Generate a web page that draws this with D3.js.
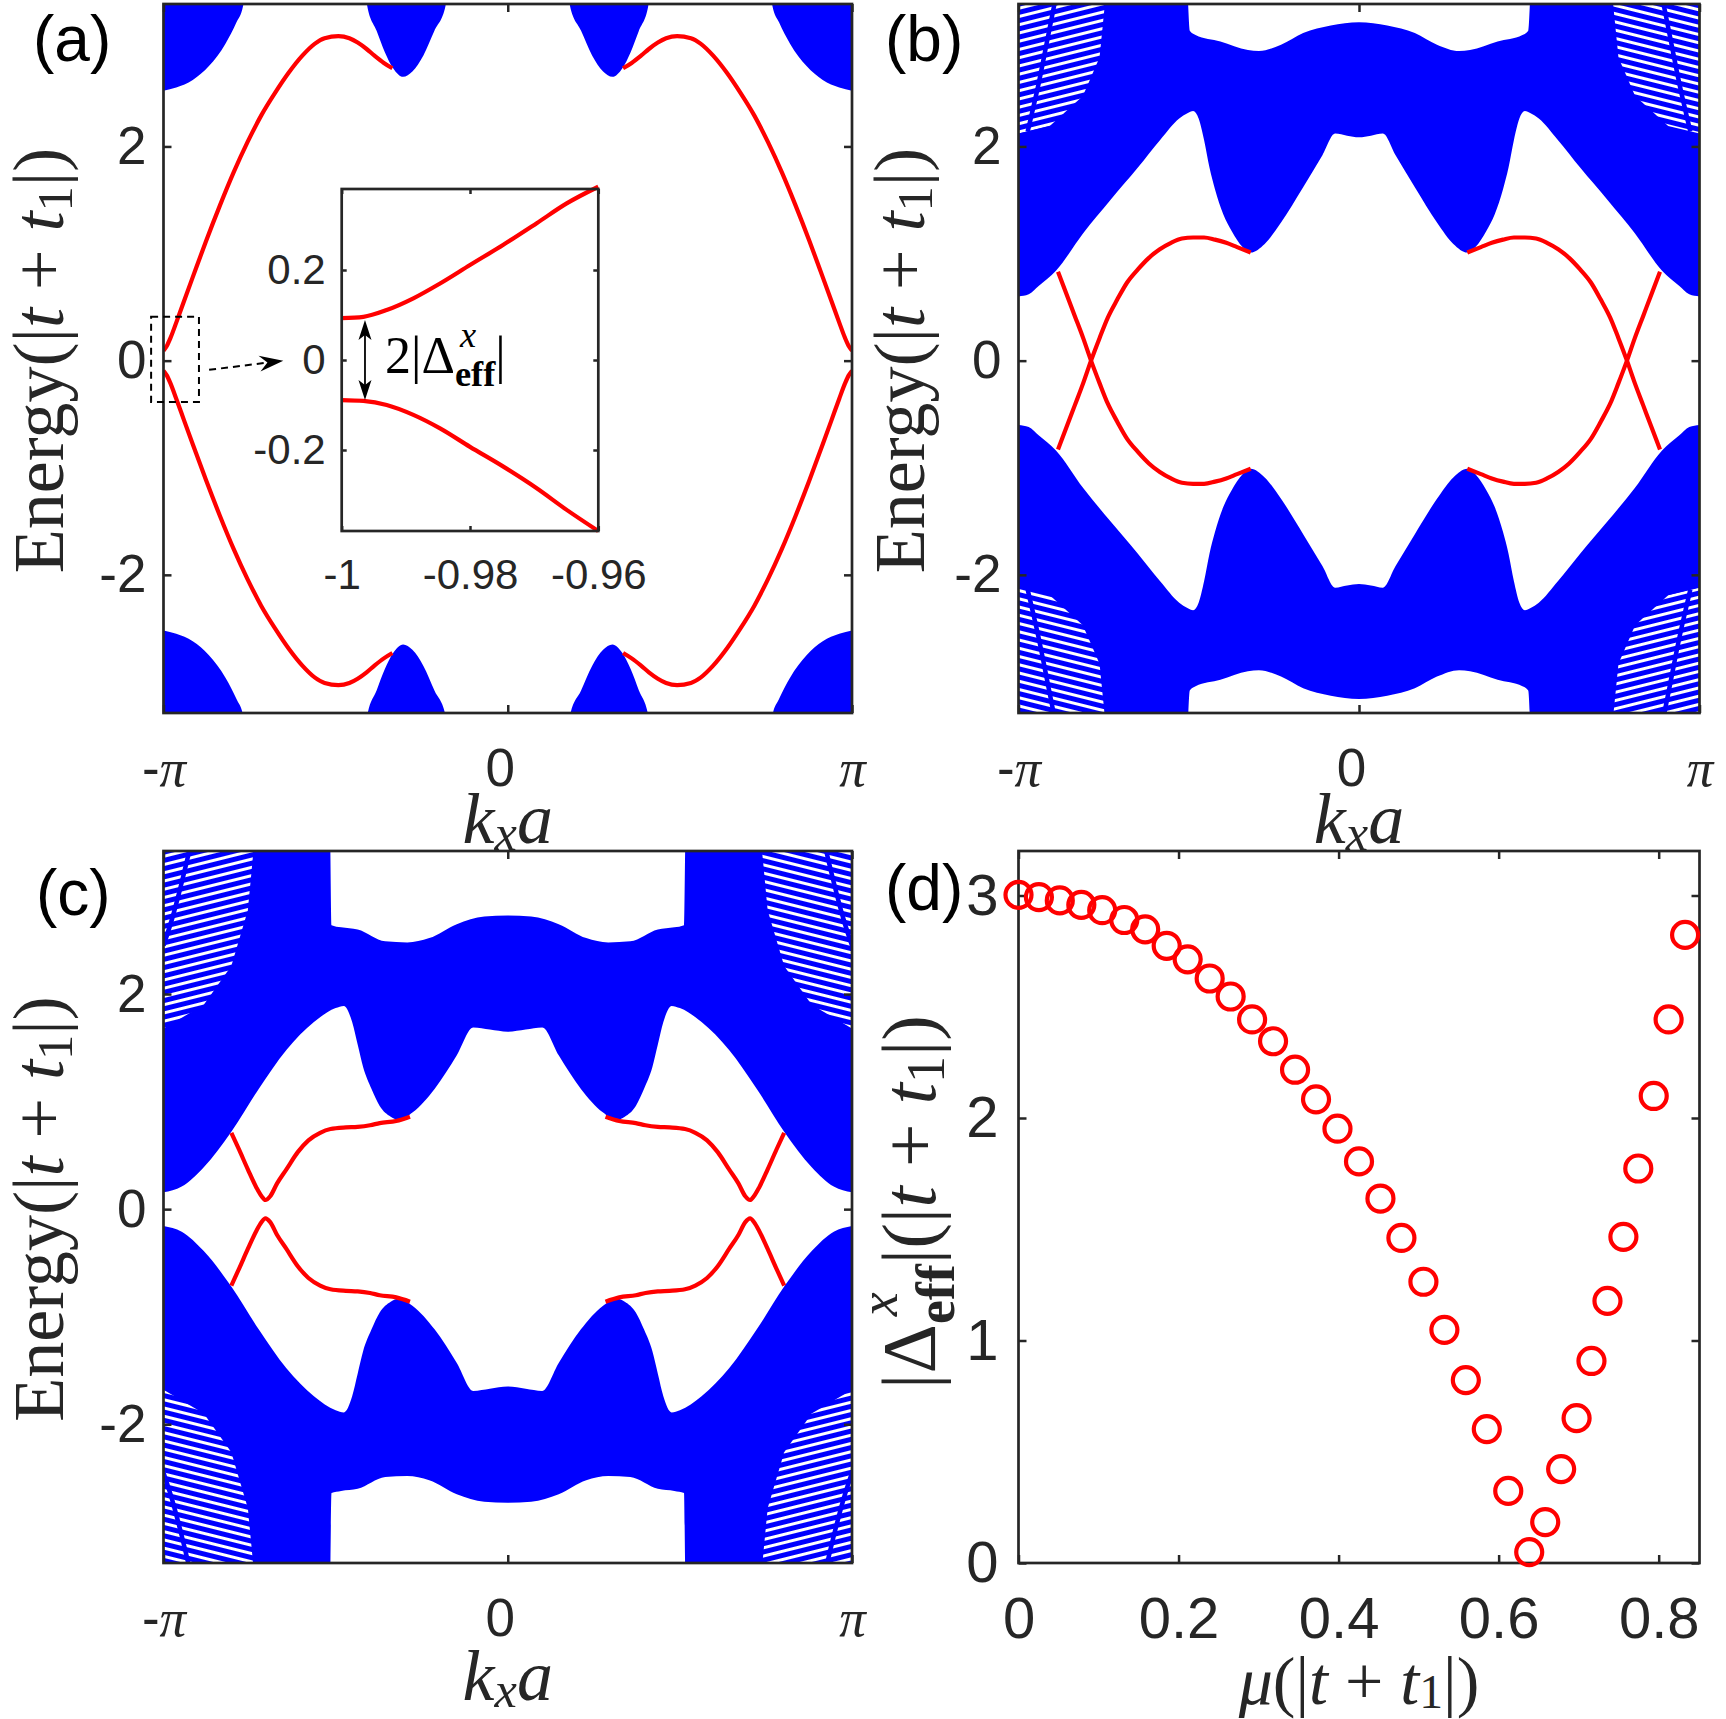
<!DOCTYPE html>
<html>
<head>
<meta charset="utf-8">
<script src="https://cdn.jsdelivr.net/npm/d3@7"></script>
<style>
  body { margin: 0; background: #fff; }
  svg { display: block; }
</style>
</head>
<body>
<svg id="fig" width="1726" height="1719"></svg>
<script>
// k values are in units of pi (kx a / pi), energies in |t+t1|

// ---------- panel (a) ----------
const aBlobTL = [[-1,2.52],[-0.963,2.55],[-0.915,2.62],[-0.868,2.75],[-0.82,2.96],[-0.788,3.16],[-0.769,3.31],[-0.764,3.45]]
const aBump1  = [[-0.412,3.45],[-0.408,3.31],[-0.381,3.08],[-0.357,2.88],[-0.333,2.73],[-0.304,2.65],[-0.277,2.70],[-0.245,2.85],[-0.213,3.08],[-0.181,3.31],[-0.177,3.45]]
const aBump2  = [[0.177,3.45],[0.181,3.31],[0.213,3.08],[0.245,2.85],[0.277,2.70],[0.304,2.65],[0.333,2.73],[0.357,2.88],[0.381,3.08],[0.408,3.31],[0.412,3.45]]
const aBlobTR = [[0.764,3.45],[0.769,3.31],[0.788,3.16],[0.82,2.96],[0.868,2.75],[0.915,2.62],[0.963,2.55],[1,2.52]]
const aBlobBL = [[-1,-2.52],[-0.963,-2.55],[-0.915,-2.62],[-0.868,-2.75],[-0.82,-2.96],[-0.788,-3.16],[-0.769,-3.31],[-0.764,-3.45]]
const aBumpB1 = [[-0.412,-3.45],[-0.408,-3.31],[-0.381,-3.08],[-0.357,-2.88],[-0.333,-2.73],[-0.304,-2.65],[-0.277,-2.70],[-0.245,-2.85],[-0.213,-3.08],[-0.181,-3.31],[-0.177,-3.45]]
const aBumpB2 = [[0.177,-3.45],[0.181,-3.31],[0.213,-3.08],[0.245,-2.85],[0.277,-2.70],[0.304,-2.65],[0.333,-2.73],[0.357,-2.88],[0.381,-3.08],[0.408,-3.31],[0.412,-3.45]]
const aBlobBR = [[0.764,-3.45],[0.769,-3.31],[0.788,-3.16],[0.82,-2.96],[0.868,-2.75],[0.915,-2.62],[0.963,-2.55],[1,-2.52]]

const aRedUp = [[-1,0.094],[-0.99,0.14],[-0.98,0.21],[-0.963,0.355],[-0.94,0.56],[-0.915,0.78],[-0.876,1.12],[-0.836,1.45],[-0.796,1.76],[-0.756,2.04],[-0.716,2.29],[-0.676,2.50],[-0.636,2.69],[-0.596,2.85],[-0.56,2.96],[-0.532,3.01],[-0.492,3.03],[-0.46,3.01],[-0.436,2.97],[-0.41,2.91],[-0.388,2.85],[-0.36,2.78],[-0.335,2.73],
  null,
  [0.335,2.73],[0.36,2.78],[0.388,2.85],[0.41,2.91],[0.436,2.97],[0.46,3.01],[0.492,3.03],[0.532,3.01],[0.56,2.96],[0.596,2.85],[0.636,2.69],[0.676,2.50],[0.716,2.29],[0.756,2.04],[0.796,1.76],[0.836,1.45],[0.876,1.12],[0.915,0.78],[0.94,0.56],[0.963,0.355],[0.98,0.21],[0.99,0.14],[1,0.094]]
const aRedDn = [[-1,-0.094],[-0.99,-0.14],[-0.98,-0.21],[-0.963,-0.355],[-0.94,-0.56],[-0.915,-0.78],[-0.876,-1.12],[-0.836,-1.45],[-0.796,-1.76],[-0.756,-2.04],[-0.716,-2.29],[-0.676,-2.50],[-0.636,-2.69],[-0.596,-2.85],[-0.56,-2.96],[-0.532,-3.01],[-0.492,-3.03],[-0.46,-3.01],[-0.436,-2.97],[-0.41,-2.91],[-0.388,-2.85],[-0.36,-2.78],[-0.335,-2.73],
  null,
  [0.335,-2.73],[0.36,-2.78],[0.388,-2.85],[0.41,-2.91],[0.436,-2.97],[0.46,-3.01],[0.492,-3.03],[0.532,-3.01],[0.56,-2.96],[0.596,-2.85],[0.636,-2.69],[0.676,-2.50],[0.716,-2.29],[0.756,-2.04],[0.796,-1.76],[0.836,-1.45],[0.876,-1.12],[0.915,-0.78],[0.94,-0.56],[0.963,-0.355],[0.98,-0.21],[0.99,-0.14],[1,-0.094]]

// inset of (a): k from -1 to -0.96
const insetUp = [[-1,0.093],[-0.99662,0.096],[-0.99299,0.111],[-0.98883,0.137],[-0.98467,0.170],[-0.98,0.211],[-0.9748,0.256],[-0.9696,0.304],[-0.96493,0.348],[-0.96,0.385]]
const insetDn = [[-1,-0.089],[-0.99662,-0.091],[-0.99299,-0.100],[-0.98883,-0.122],[-0.98467,-0.152],[-0.98,-0.193],[-0.9748,-0.237],[-0.9696,-0.285],[-0.96493,-0.333],[-0.96,-0.38]]

// ---------- panel (b) ----------
const bUpperLo = [[-1,0.60],[-0.97,0.62],[-0.94,0.70],[-0.89,0.84],[-0.81,1.19],[-0.73,1.50],[-0.65,1.80],[-0.584,2.06],[-0.528,2.26],[-0.504,2.31],[-0.487,2.33],[-0.471,2.26],[-0.455,2.06],[-0.439,1.80],[-0.423,1.60],[-0.399,1.37],[-0.374,1.21],[-0.342,1.06],[-0.318,1.01],[-0.277,1.09],[-0.229,1.29],[-0.164,1.62],[-0.107,1.92],[-0.07,2.12],[-0.035,2.10],[0,2.085],[0.035,2.10],[0.07,2.12],[0.107,1.92],[0.164,1.62],[0.229,1.29],[0.277,1.09],[0.318,1.01],[0.342,1.06],[0.374,1.21],[0.399,1.37],[0.423,1.60],[0.439,1.80],[0.455,2.06],[0.471,2.26],[0.487,2.33],[0.504,2.31],[0.528,2.26],[0.584,2.06],[0.65,1.80],[0.73,1.50],[0.81,1.19],[0.89,0.84],[0.94,0.70],[0.97,0.62],[1,0.60]]
const bUpperHi = [[-1,3.6],[-0.507,3.6],[-0.497,3.08],[-0.48,3.04],[-0.407,2.98],[-0.326,2.90],[-0.294,2.89],[-0.229,2.95],[-0.164,3.06],[-0.083,3.13],[0,3.16],[0.083,3.13],[0.164,3.06],[0.229,2.95],[0.294,2.89],[0.326,2.90],[0.407,2.98],[0.48,3.04],[0.497,3.08],[0.507,3.6],[1,3.6]]
const bLowerHi = [[-1,-0.60],[-0.97,-0.62],[-0.94,-0.70],[-0.89,-0.84],[-0.81,-1.19],[-0.73,-1.50],[-0.65,-1.80],[-0.584,-2.06],[-0.528,-2.26],[-0.504,-2.31],[-0.487,-2.33],[-0.471,-2.26],[-0.455,-2.06],[-0.439,-1.80],[-0.423,-1.60],[-0.399,-1.37],[-0.374,-1.21],[-0.342,-1.06],[-0.318,-1.01],[-0.277,-1.09],[-0.229,-1.29],[-0.164,-1.62],[-0.107,-1.92],[-0.07,-2.12],[-0.035,-2.10],[0,-2.085],[0.035,-2.10],[0.07,-2.12],[0.107,-1.92],[0.164,-1.62],[0.229,-1.29],[0.277,-1.09],[0.318,-1.01],[0.342,-1.06],[0.374,-1.21],[0.399,-1.37],[0.423,-1.60],[0.439,-1.80],[0.455,-2.06],[0.471,-2.26],[0.487,-2.33],[0.504,-2.31],[0.528,-2.26],[0.584,-2.06],[0.65,-1.80],[0.73,-1.50],[0.81,-1.19],[0.89,-0.84],[0.94,-0.70],[0.97,-0.62],[1,-0.60]]
const bLowerLo = [[-1,-3.6],[-0.507,-3.6],[-0.497,-3.08],[-0.48,-3.04],[-0.407,-2.98],[-0.326,-2.90],[-0.294,-2.89],[-0.229,-2.95],[-0.164,-3.06],[-0.083,-3.13],[0,-3.16],[0.083,-3.13],[0.164,-3.06],[0.229,-2.95],[0.294,-2.89],[0.326,-2.90],[0.407,-2.98],[0.48,-3.04],[0.497,-3.08],[0.507,-3.6],[1,-3.6]]
const bCornerTL = [[-1,2.12],[-0.908,2.19],[-0.811,2.47],[-0.762,2.83],[-0.746,3.34],[-0.745,3.6],[-1,3.6]]
const bCornerTR = [[1,2.12],[0.908,2.19],[0.811,2.47],[0.762,2.83],[0.746,3.34],[0.745,3.6],[1,3.6]]
const bCornerBL = [[-1,-2.12],[-0.908,-2.19],[-0.811,-2.47],[-0.762,-2.83],[-0.746,-3.34],[-0.745,-3.6],[-1,-3.6]]
const bCornerBR = [[1,-2.12],[0.908,-2.19],[0.811,-2.47],[0.762,-2.83],[0.746,-3.34],[0.745,-3.6],[1,-3.6]]
const bStreaks = [
  [[-0.89,3.4],[-0.915,3.0],[-0.94,2.6],[-0.973,2.14]],
  [[0.89,3.4],[0.915,3.0],[0.94,2.6],[0.973,2.14]],
  [[-0.89,-3.4],[-0.915,-3.0],[-0.94,-2.6],[-0.973,-2.14]],
  [[0.89,-3.4],[0.915,-3.0],[0.94,-2.6],[0.973,-2.14]]]
const bRedUp = [[-0.884,-0.83],[-0.86,-0.63],[-0.835,-0.42],[-0.81,-0.21],[-0.787,0],[-0.762,0.21],[-0.738,0.40],[-0.71,0.57],[-0.681,0.73],[-0.65,0.85],[-0.617,0.96],[-0.585,1.04],[-0.552,1.10],[-0.52,1.14],[-0.487,1.15],[-0.455,1.15],[-0.423,1.13],[-0.39,1.10],[-0.358,1.06],[-0.318,1.01],
  null,
  [0.318,1.01],[0.358,1.06],[0.39,1.10],[0.423,1.13],[0.455,1.15],[0.487,1.15],[0.52,1.14],[0.552,1.10],[0.585,1.04],[0.617,0.96],[0.65,0.85],[0.681,0.73],[0.71,0.57],[0.738,0.40],[0.762,0.21],[0.787,0],[0.81,-0.21],[0.835,-0.42],[0.86,-0.63],[0.884,-0.83]]
const bRedDn = [[-0.884,0.83],[-0.86,0.63],[-0.835,0.42],[-0.81,0.21],[-0.787,0],[-0.762,-0.21],[-0.738,-0.40],[-0.71,-0.57],[-0.681,-0.73],[-0.65,-0.85],[-0.617,-0.96],[-0.585,-1.04],[-0.552,-1.10],[-0.52,-1.14],[-0.487,-1.15],[-0.455,-1.15],[-0.423,-1.13],[-0.39,-1.10],[-0.358,-1.06],[-0.318,-1.01],
  null,
  [0.318,-1.01],[0.358,-1.06],[0.39,-1.10],[0.423,-1.13],[0.455,-1.15],[0.487,-1.15],[0.52,-1.14],[0.552,-1.10],[0.585,-1.04],[0.617,-0.96],[0.65,-0.85],[0.681,-0.73],[0.71,-0.57],[0.738,-0.40],[0.762,-0.21],[0.787,0],[0.81,0.21],[0.835,0.42],[0.86,0.63],[0.884,0.83]]

// ---------- panel (c) ----------
const cUpperLo = [[-1,0.156],[-0.947,0.21],[-0.883,0.39],[-0.803,0.72],[-0.723,1.12],[-0.643,1.48],[-0.563,1.74],[-0.5,1.87],[-0.476,1.89],[-0.452,1.74],[-0.436,1.53],[-0.42,1.32],[-0.396,1.12],[-0.372,0.96],[-0.34,0.86],[-0.316,0.83],[-0.276,0.90],[-0.212,1.12],[-0.148,1.43],[-0.1,1.69],[-0.052,1.67],[0,1.65],[0.052,1.67],[0.1,1.69],[0.148,1.43],[0.212,1.12],[0.276,0.90],[0.316,0.83],[0.34,0.86],[0.372,0.96],[0.396,1.12],[0.42,1.32],[0.436,1.53],[0.452,1.74],[0.476,1.89],[0.5,1.87],[0.563,1.74],[0.643,1.48],[0.723,1.12],[0.803,0.72],[0.883,0.39],[0.947,0.21],[1,0.156]]
const cUpperHi = [[-1,3.6],[-0.517,3.6],[-0.512,2.64],[-0.484,2.62],[-0.436,2.60],[-0.356,2.49],[-0.292,2.48],[-0.228,2.52],[-0.148,2.65],[-0.068,2.72],[0,2.73],[0.068,2.72],[0.148,2.65],[0.228,2.52],[0.292,2.48],[0.356,2.49],[0.436,2.60],[0.484,2.62],[0.512,2.64],[0.517,3.6],[1,3.6]]
const cLowerHi = [[-1,-0.156],[-0.947,-0.21],[-0.883,-0.39],[-0.803,-0.72],[-0.723,-1.12],[-0.643,-1.48],[-0.563,-1.74],[-0.5,-1.87],[-0.476,-1.89],[-0.452,-1.74],[-0.436,-1.53],[-0.42,-1.32],[-0.396,-1.12],[-0.372,-0.96],[-0.34,-0.86],[-0.316,-0.83],[-0.276,-0.90],[-0.212,-1.12],[-0.148,-1.43],[-0.1,-1.69],[-0.052,-1.67],[0,-1.65],[0.052,-1.67],[0.1,-1.69],[0.148,-1.43],[0.212,-1.12],[0.276,-0.90],[0.316,-0.83],[0.34,-0.86],[0.372,-0.96],[0.396,-1.12],[0.42,-1.32],[0.436,-1.53],[0.452,-1.74],[0.476,-1.89],[0.5,-1.87],[0.563,-1.74],[0.643,-1.48],[0.723,-1.12],[0.803,-0.72],[0.883,-0.39],[0.947,-0.21],[1,-0.156]]
const cLowerLo = [[-1,-3.6],[-0.517,-3.6],[-0.512,-2.64],[-0.484,-2.62],[-0.436,-2.60],[-0.356,-2.49],[-0.292,-2.48],[-0.228,-2.52],[-0.148,-2.65],[-0.068,-2.72],[0,-2.73],[0.068,-2.72],[0.148,-2.65],[0.228,-2.52],[0.292,-2.48],[0.356,-2.49],[0.436,-2.60],[0.484,-2.62],[0.512,-2.64],[0.517,-3.6],[1,-3.6]]
const cCornerTL = [[-1,1.68],[-0.883,1.90],[-0.803,2.26],[-0.755,2.78],[-0.739,3.32],[-0.738,3.6],[-1,3.6]]
const cCornerTR = [[1,1.68],[0.883,1.90],[0.803,2.26],[0.755,2.78],[0.739,3.32],[0.738,3.6],[1,3.6]]
const cCornerBL = [[-1,-1.68],[-0.883,-1.90],[-0.803,-2.26],[-0.755,-2.78],[-0.739,-3.32],[-0.738,-3.6],[-1,-3.6]]
const cCornerBR = [[1,-1.68],[0.883,-1.90],[0.803,-2.26],[0.755,-2.78],[0.739,-3.32],[0.738,-3.6],[1,-3.6]]
const cStreaks = [
  [[-0.92,3.4],[-0.95,3.0],[-0.975,2.7],[-1,2.45]],
  [[0.92,3.4],[0.95,3.0],[0.975,2.7],[1,2.45]],
  [[-0.92,-3.4],[-0.95,-3.0],[-0.975,-2.7],[-1,-2.45]],
  [[0.92,-3.4],[0.95,-3.0],[0.975,-2.7],[1,-2.45]]]
const cRedUp = [[-0.803,0.71],[-0.78,0.55],[-0.755,0.37],[-0.73,0.2],[-0.715,0.12],[-0.704,0.085],[-0.69,0.12],[-0.67,0.24],[-0.643,0.37],[-0.61,0.53],[-0.579,0.64],[-0.545,0.71],[-0.515,0.745],[-0.47,0.76],[-0.436,0.765],[-0.4,0.78],[-0.372,0.80],[-0.324,0.82],[-0.284,0.86],
  null,
  [0.284,0.86],[0.324,0.82],[0.372,0.80],[0.4,0.78],[0.436,0.765],[0.47,0.76],[0.515,0.745],[0.545,0.71],[0.579,0.64],[0.61,0.53],[0.643,0.37],[0.67,0.24],[0.69,0.12],[0.704,0.085],[0.715,0.12],[0.73,0.2],[0.755,0.37],[0.78,0.55],[0.803,0.71]]
const cRedDn = [[-0.803,-0.71],[-0.78,-0.55],[-0.755,-0.37],[-0.73,-0.2],[-0.715,-0.12],[-0.704,-0.085],[-0.69,-0.12],[-0.67,-0.24],[-0.643,-0.37],[-0.61,-0.53],[-0.579,-0.64],[-0.545,-0.71],[-0.515,-0.745],[-0.47,-0.76],[-0.436,-0.765],[-0.4,-0.78],[-0.372,-0.80],[-0.324,-0.82],[-0.284,-0.86],
  null,
  [0.284,-0.86],[0.324,-0.82],[0.372,-0.80],[0.4,-0.78],[0.436,-0.765],[0.47,-0.76],[0.515,-0.745],[0.545,-0.71],[0.579,-0.64],[0.61,-0.53],[0.643,-0.37],[0.67,-0.24],[0.69,-0.12],[0.704,-0.085],[0.715,-0.12],[0.73,-0.2],[0.755,-0.37],[0.78,-0.55],[0.803,-0.71]]

// ---------- panel (d) ----------
const dMu  = [0, 0.0255, 0.0516, 0.0785, 0.1046, 0.1322, 0.1583, 0.1852, 0.2114, 0.2389, 0.2651, 0.2919, 0.3181, 0.3456, 0.3718, 0.3986, 0.4255, 0.4523, 0.4785, 0.5060, 0.5322, 0.5590, 0.5852, 0.6120, 0.6382, 0.6582, 0.6781, 0.6974, 0.7160, 0.7360, 0.7559, 0.7745, 0.7938, 0.8124, 0.8330]
const dGap = [3.003, 2.993, 2.978, 2.958, 2.934, 2.890, 2.848, 2.774, 2.713, 2.627, 2.546, 2.443, 2.345, 2.217, 2.084, 1.952, 1.805, 1.638, 1.461, 1.264, 1.048, 0.822, 0.602, 0.324, 0.049, 0.184, 0.422, 0.651, 0.908, 1.178, 1.466, 1.773, 2.099, 2.443, 2.823]

// ticks
const kTicks = [-1, 0, 1]
const eTicks = [-2, 0, 2]
const insetKTicks = [-1, -0.98, -0.96]
const insetETicks = [-0.2, 0, 0.2]
const muTicks = [0, 0.2, 0.4, 0.6, 0.8]
const gapTicks = [0, 1, 2, 3]

// ---------- drawing ----------
const blue = '#0000ff', red = '#ff0000', axisCol = '#262626'
const sans = "'Liberation Sans', Arial, Helvetica, sans-serif"
const serif = "'Liberation Serif', 'Times New Roman', serif"
const eDomain = [-3.29, 3.33]
const capE = 3.6

const svg = d3.select('#fig')
svg.append('rect').attr('width', 1726).attr('height', 1719).attr('fill', '#fff')
const defs = svg.append('defs')

// striped corners (discrete subbands near the zone edge)
;[['stripeUp', -14], ['stripeDn', 14]].forEach(([id, ang]) => {
  const p = defs.append('pattern').attr('id', id).attr('patternUnits', 'userSpaceOnUse')
    .attr('width', 8).attr('height', 8).attr('patternTransform', `rotate(${ang})`)
  p.append('rect').attr('width', 8).attr('height', 8).attr('fill', blue)
  p.append('rect').attr('y', 5).attr('width', 8).attr('height', 3).attr('fill', '#fff')
})

const boxes = {
  a: {x0: 163.5, x1: 852, y0: 4, y1: 713},
  b: {x0: 1018.5, x1: 1699.5, y0: 4, y1: 713},
  c: {x0: 163.5, x1: 852, y0: 851, y1: 1563},
  d: {x0: 1018.5, x1: 1699.5, y0: 851, y1: 1563}
}

// one <text> with tspans; r.back puts a superscript over the previous subscript
function mathLabel(parent, runs, fs, opts = {}) {
  const text = parent.append('text').attr('font-family', serif).attr('font-size', fs)
    .attr('fill', opts.color || axisCol).attr('text-anchor', opts.anchor || 'middle')
  let shift = 0, wPrev = 0, pending = 0
  runs.forEach(r => {
    const up = -(r.up || 0) * fs
    let dx = pending
    if (r.back !== undefined) dx += -wPrev + r.back * fs
    const ts = text.append('tspan').attr('dy', up - shift)
      .attr('font-size', fs * (r.s || 1))
      .attr('font-style', r.it ? 'italic' : null).attr('font-weight', r.bf ? 'bold' : null)
      .text(r.t)
    if (dx) ts.attr('dx', dx)
    shift = up
    const w = ts.node().getComputedTextLength()
    pending = r.back !== undefined ? Math.max(0, wPrev - r.back * fs - w) : 0
    wPrev = w
  })
  return text
}

function plusT1(sub) {
  return [{t: '(|'}, {t: 't', it: 1}, {t: '\u00A0+\u00A0'}, {t: 't', it: 1}, {t: '1', s: 0.7, up: -sub}, {t: '|)'}]
}
const energyRuns = [{t: 'Energy'}].concat(plusT1(0.12))
const kRuns = [{t: 'k', it: 1}, {t: 'x', it: 1, s: 0.7, up: -0.1}, {t: 'a', it: 1}]
const muRuns = [{t: 'μ', it: 1}].concat(plusT1(0.06))
const deltaRuns = [{t: 'Δ'}, {t: 'eff', bf: 1, s: 0.7, up: -0.25}, {t: 'x', it: 1, s: 0.7, up: 0.5, back: 0.1}]
const gapRuns = [{t: '|'}].concat(deltaRuns, [{t: '|'}], plusT1(0.12))
const insetRuns = [{t: '2'}, {t: '|'}].concat(deltaRuns, [{t: '|'}])

function styleAxis(sel, fs) {
  sel.attr('font-size', null).attr('font-family', null)
  sel.select('.domain').remove()
  sel.selectAll('.tick line').attr('stroke', axisCol).attr('stroke-width', 2.5)
  sel.selectAll('.tick text').attr('fill', axisCol).attr('font-size', fs).attr('font-family', sans)
}

function drawAxes(g, box, x, y, xt, yt, o) {
  g.append('g').attr('class', 'x-bottom').attr('transform', `translate(0,${box.y1})`)
    .call(d3.axisBottom(x).tickValues(xt).tickSizeInner(-o.tick).tickSizeOuter(0).tickPadding(o.padX).tickFormat(d => String(d)))
    .call(s => styleAxis(s, o.fs))
  g.append('g').attr('transform', `translate(0,${box.y0})`)
    .call(d3.axisTop(x).tickValues(xt).tickSizeInner(-o.tick).tickSizeOuter(0).tickFormat(''))
    .call(s => styleAxis(s, o.fs))
  g.append('g').attr('transform', `translate(${box.x0},0)`)
    .call(d3.axisLeft(y).tickValues(yt).tickSizeInner(-o.tick).tickSizeOuter(0).tickPadding(o.padY).tickFormat(d => String(d)))
    .call(s => styleAxis(s, o.fs))
  g.append('g').attr('transform', `translate(${box.x1},0)`)
    .call(d3.axisRight(y).tickValues(yt).tickSizeInner(-o.tick).tickSizeOuter(0).tickFormat(''))
    .call(s => styleAxis(s, o.fs))
  g.append('rect').attr('x', box.x0).attr('y', box.y0)
    .attr('width', box.x1 - box.x0).attr('height', box.y1 - box.y0)
    .attr('fill', 'none').attr('stroke', axisCol).attr('stroke-width', 2.7)
}

// pi tick labels on the bottom axis: "-" in sans, pi in italic serif
function piLabels(g) {
  const labels = g.select('.x-bottom').selectAll('.tick text')
  labels.filter(d => d === -1 || d === 1).each(function (d) {
    const t = d3.select(this).text(null)
    if (d === -1) t.append('tspan').attr('font-family', sans).text('-')
    t.append('tspan').attr('font-family', serif).attr('font-style', 'italic').text('π')
  })
  labels.filter(d => d === 0).attr('dx', -8)
}

function energyPanel(id, box, spec) {
  const x = d3.scaleLinear([-1, 1], [box.x0, box.x1])
  const y = d3.scaleLinear(eDomain, [box.y1, box.y0])
  const line = d3.line().defined(d => d).x(d => x(d[0])).y(d => y(d[1])).curve(d3.curveMonotoneX)
  const poly = d3.line().x(d => x(d[0])).y(d => y(d[1]))
  const g = svg.append('g')

  defs.append('clipPath').attr('id', 'clip-' + id).append('rect')
    .attr('x', box.x0).attr('y', box.y0).attr('width', box.x1 - box.x0).attr('height', box.y1 - box.y0)
  const inner = g.append('g').attr('clip-path', `url(#clip-${id})`)

  // bulk bands bounded by two curves
  ;(spec.bands || []).forEach(([lo, hi]) => {
    const d = line(lo) + 'L' + line(hi.slice().reverse()).slice(1) + 'Z'
    inner.append('path').attr('d', d).attr('fill', blue)
  })
  // bulk pieces bounded by one curve and closed beyond the frame
  ;(spec.blobs || []).forEach(edge => {
    const cap = edge[0][1] > 0 ? capE : -capE
    const d = line(edge) + `L${x(edge[edge.length - 1][0])},${y(cap)}L${x(edge[0][0])},${y(cap)}Z`
    inner.append('path').attr('d', d).attr('fill', blue)
  })
  ;(spec.corners || []).forEach((c, i) => {
    inner.append('path').attr('d', poly(c) + 'Z')
      .attr('fill', `url(#${i === 0 || i === 3 ? 'stripeUp' : 'stripeDn'})`)
  })
  ;(spec.streaks || []).forEach(s => {
    inner.append('path').attr('d', d3.line().x(d => x(d[0])).y(d => y(d[1])).curve(d3.curveCatmullRom)(s))
      .attr('fill', 'none').attr('stroke', blue).attr('stroke-width', 4.5)
  })
  ;(spec.reds || []).forEach(r => {
    inner.append('path').attr('d', line(r)).attr('fill', 'none')
      .attr('stroke', red).attr('stroke-width', 4.2).attr('stroke-linecap', 'butt')
  })

  drawAxes(g, box, x, y, kTicks, eTicks, {tick: 8, fs: 53, padX: 35, padY: 17})
  piLabels(g)

  // axis labels
  const lx = svg.append('g').attr('transform', `translate(${(box.x0 + box.x1) / 2},${spec.xLabelY})`)
  mathLabel(lx, kRuns, 72)
  const ly = svg.append('g').attr('transform', `translate(${spec.yLabelX},${(box.y0 + box.y1) / 2 + 2}) rotate(-90)`)
  mathLabel(ly, energyRuns, 72)
  return {x, y, g}
}

// (a)
const pa = energyPanel('a', boxes.a, {
  blobs: [aBlobTL, aBump1, aBump2, aBlobTR, aBlobBL, aBumpB1, aBumpB2, aBlobBR],
  reds: [aRedUp, aRedDn], xLabelY: 843, yLabelX: 63
})
// (b)
energyPanel('b', boxes.b, {
  bands: [[bUpperLo, bUpperHi], [bLowerLo, bLowerHi]],
  corners: [bCornerTL, bCornerTR, bCornerBL, bCornerBR], streaks: bStreaks,
  reds: [bRedUp, bRedDn], xLabelY: 843, yLabelX: 923.5
})
// (c)
energyPanel('c', boxes.c, {
  bands: [[cUpperLo, cUpperHi], [cLowerLo, cLowerHi]],
  corners: [cCornerTL, cCornerTR, cCornerBL, cCornerBR], streaks: cStreaks,
  reds: [cRedUp, cRedDn], xLabelY: 1700, yLabelX: 63
})

// dashed zoom box and arrow in (a)
function arrowHead(g, x1, y1, x2, y2, len, half, notch) {
  const a = Math.atan2(y2 - y1, x2 - x1)
  const ux = Math.cos(a), uy = Math.sin(a), px = -uy, py = ux
  const bx = x2 - ux * len, by = y2 - uy * len
  const nx = x2 - ux * (len - notch), ny = y2 - uy * (len - notch)
  g.append('path')
    .attr('d', `M${x2},${y2}L${bx + px * half},${by + py * half}L${nx},${ny}L${bx - px * half},${by - py * half}Z`)
    .attr('fill', '#000')
}
{
  const gA = svg.append('g')
  gA.append('rect')
    .attr('x', pa.x(-1.036)).attr('y', pa.y(0.41))
    .attr('width', pa.x(-0.897) - pa.x(-1.036)).attr('height', pa.y(-0.385) - pa.y(0.41))
    .attr('fill', 'none').attr('stroke', '#000').attr('stroke-width', 2).attr('stroke-dasharray', '7,5')
  const ax1 = pa.x(-0.8675), ay1 = pa.y(-0.086), ax2 = pa.x(-0.652), ay2 = pa.y(0.0)
  gA.append('line').attr('x1', ax1).attr('y1', ay1)
    .attr('x2', ax1 + (ax2 - ax1) * 0.8).attr('y2', ay1 + (ay2 - ay1) * 0.8)
    .attr('stroke', '#000').attr('stroke-width', 2).attr('stroke-dasharray', '7,5')
  arrowHead(gA, ax1, ay1, ax2, ay2, 24, 8, 8)
}

// inset of (a)
{
  const ib = {x0: 341.7, x1: 598.3, y0: 189, y1: 531}
  const ix = d3.scaleLinear([-1, -0.96], [ib.x0, ib.x1])
  const iy = d3.scaleLinear([-0.38, 0.38], [ib.y1, ib.y0])
  const g = svg.append('g')
  g.append('rect').attr('x', ib.x0).attr('y', ib.y0).attr('width', ib.x1 - ib.x0).attr('height', ib.y1 - ib.y0).attr('fill', '#fff')
  const line = d3.line().x(d => ix(d[0])).y(d => iy(d[1])).curve(d3.curveMonotoneX)
  ;[insetUp, insetDn].forEach(c => g.append('path').attr('d', line(c))
    .attr('fill', 'none').attr('stroke', red).attr('stroke-width', 4.2))
  drawAxes(g, ib, ix, iy, insetKTicks, insetETicks, {tick: 5, fs: 42, padX: 28, padY: 16})

  // double arrow 2|Delta|
  const axk = -0.99637
  const xa = ix(axk), ya1 = iy(0.089), ya2 = iy(-0.089)
  g.append('line').attr('x1', xa).attr('x2', xa).attr('y1', ya1 + 10).attr('y2', ya2 - 10)
    .attr('stroke', '#000').attr('stroke-width', 1.8)
  arrowHead(g, xa, ya2, xa, ya1, 20, 6.5, 5)
  arrowHead(g, xa, ya1, xa, ya2, 20, 6.5, 5)
  const tg = g.append('g').attr('transform', `translate(${ix(-0.99325)},${iy(-0.029)})`)
  mathLabel(tg, insetRuns, 52, {anchor: 'start', color: '#000'})
}

// (d)
{
  const box = boxes.d
  const x = d3.scaleLinear([0, 0.851], [box.x0, box.x1])
  const y = d3.scaleLinear([0, 3.2], [box.y1, box.y0])
  const g = svg.append('g')
  drawAxes(g, box, x, y, muTicks, gapTicks, {tick: 8, fs: 58, padX: 34, padY: 20})
  g.append('g').selectAll('circle').data(dMu.map((m, i) => [m, dGap[i]])).join('circle')
    .attr('cx', d => x(d[0])).attr('cy', d => y(d[1])).attr('r', 13)
    .attr('fill', 'none').attr('stroke', red).attr('stroke-width', 4.2)
  const lx = svg.append('g').attr('transform', `translate(${(box.x0 + box.x1) / 2},1704)`)
  mathLabel(lx, muRuns, 68)
  const ly = svg.append('g').attr('transform', `translate(935,${(box.y0 + box.y1) / 2 - 5}) rotate(-90)`)
  mathLabel(ly, gapRuns, 77)
}

// panel letters
;[['(a)', 33, 61], ['(b)', 885, 61], ['(c)', 36, 915], ['(d)', 885, 910]].forEach(([t, px, py]) => {
  svg.append('text').attr('x', px).attr('y', py).attr('font-family', sans)
    .attr('font-size', 64).attr('fill', '#000').text(t)
})
</script>
</body>
</html>
